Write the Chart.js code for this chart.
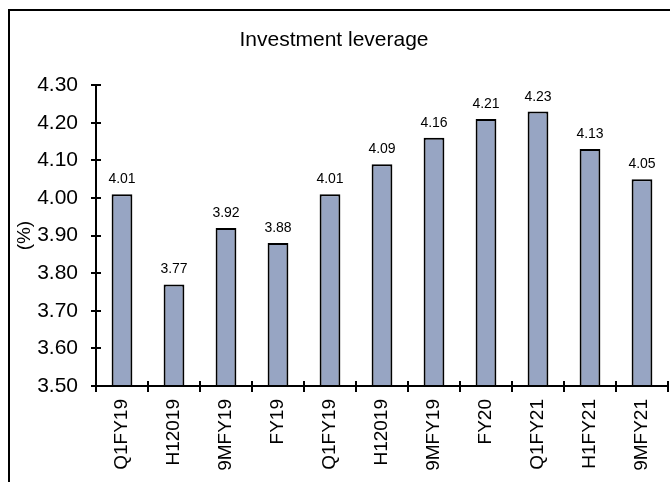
<!DOCTYPE html>
<html>
<head>
<meta charset="utf-8">
<script src="https://cdn.jsdelivr.net/npm/chart.js@4/dist/chart.umd.min.js"></script>
<style>
  html, body { margin: 0; padding: 0; background: #fff; overflow: hidden; }
  #frame { position: absolute; left: 8px; top: 9px; width: 720px; height: 520px; border: 2px solid #000; }
  #wrap { position: absolute; left: 0; top: 0; width: 670px; height: 482px; }
</style>
</head>
<body>
<div id="frame"></div>
<div id="wrap"><canvas id="chart"></canvas></div>
<script>
// Investment leverage, by reporting period (%)
const periods = ["Q1FY19", "H12019", "9MFY19", "FY19", "Q1FY19", "H12019", "9MFY19", "FY20", "Q1FY21", "H1FY21", "9MFY21"];
const leverage = [4.01, 3.77, 3.92, 3.88, 4.01, 4.09, 4.16, 4.21, 4.23, 4.13, 4.05];
const yMin = 3.5, yMax = 4.3, yStep = 0.1;

const FONT = "'Liberation Sans', Arial, sans-serif";
const BAR = "#97a5c3";

// Axis lines with tick marks crossing both sides, like the original.
const axesPlugin = {
  id: "axes",
  afterDatasetsDraw(chart) {
    const { ctx, chartArea: a, scales: { x, y } } = chart;
    ctx.save();
    ctx.strokeStyle = "#000";
    ctx.lineWidth = 2;
    ctx.beginPath();
    ctx.moveTo(a.left, a.top); ctx.lineTo(a.left, a.bottom);
    ctx.moveTo(a.left, a.bottom); ctx.lineTo(a.right, a.bottom);
    for (let v = yMin; v <= yMax + 1e-9; v += yStep) {
      const py = Math.round(y.getPixelForValue(v));
      ctx.moveTo(a.left - 5, py); ctx.lineTo(a.left + 5, py);
    }
    const half = (x.getPixelForValue(1) - x.getPixelForValue(0)) / 2;
    for (let i = 0; i <= periods.length; i++) {
      const px = Math.round(x.getPixelForValue(i) - half);
      ctx.moveTo(px, a.bottom - 5); ctx.lineTo(px, a.bottom + 6);
    }
    ctx.stroke();

    // value labels above each bar
    ctx.fillStyle = "#000";
    ctx.font = "14px " + FONT;
    ctx.textAlign = "center";
    ctx.textBaseline = "alphabetic";
    chart.getDatasetMeta(0).data.forEach((bar, i) => {
      ctx.fillText(leverage[i].toFixed(2), bar.x, bar.y - 11);
    });
    ctx.restore();
  }
};

new Chart(document.getElementById("chart"), {
  type: "bar",
  data: {
    labels: periods,
    datasets: [{
      data: leverage,
      backgroundColor: BAR, borderColor: "#000", borderWidth: 2,
      borderSkipped: false, barPercentage: 0.4, categoryPercentage: 1
    }]
  },
  options: {
    responsive: true,
    maintainAspectRatio: false,
    animation: false,
    layout: { padding: { left: 0, right: 2, top: 0, bottom: 0 } },
    plugins: {
      legend: { display: false },
      tooltip: { enabled: false },
      title: {
        display: true, text: "Investment leverage", color: "#000",
        font: { family: FONT, size: 21, weight: "normal" },
        padding: { top: 28, bottom: 32 }
      }
    },
    scales: {
      x: {
        grid: { display: false, drawTicks: false },
        border: { display: false },
        ticks: {
          color: "#000", font: { family: FONT, size: 19 },
          maxRotation: 90, minRotation: 90, autoSkip: false, padding: 13
        },
        afterFit: (s) => { s.height = 96; s.paddingLeft = 0; s.paddingRight = 0; }
      },
      y: {
        min: yMin, max: yMax,
        grid: { display: false, drawTicks: false },
        border: { display: false },
        ticks: {
          stepSize: yStep, color: "#000", padding: 18,
          font: { family: FONT, size: 21 },
          callback: (v) => Number(v).toFixed(2)
        },
        title: {
          display: true, text: "(%)", color: "#000",
          font: { family: FONT, size: 19 }, padding: { top: 13, bottom: 0 }
        },
        afterFit: (s) => { s.width = 96; s.paddingTop = 0; s.paddingBottom = 0; }
      }
    }
  },
  plugins: [axesPlugin]
});
</script>
</body>
</html>
